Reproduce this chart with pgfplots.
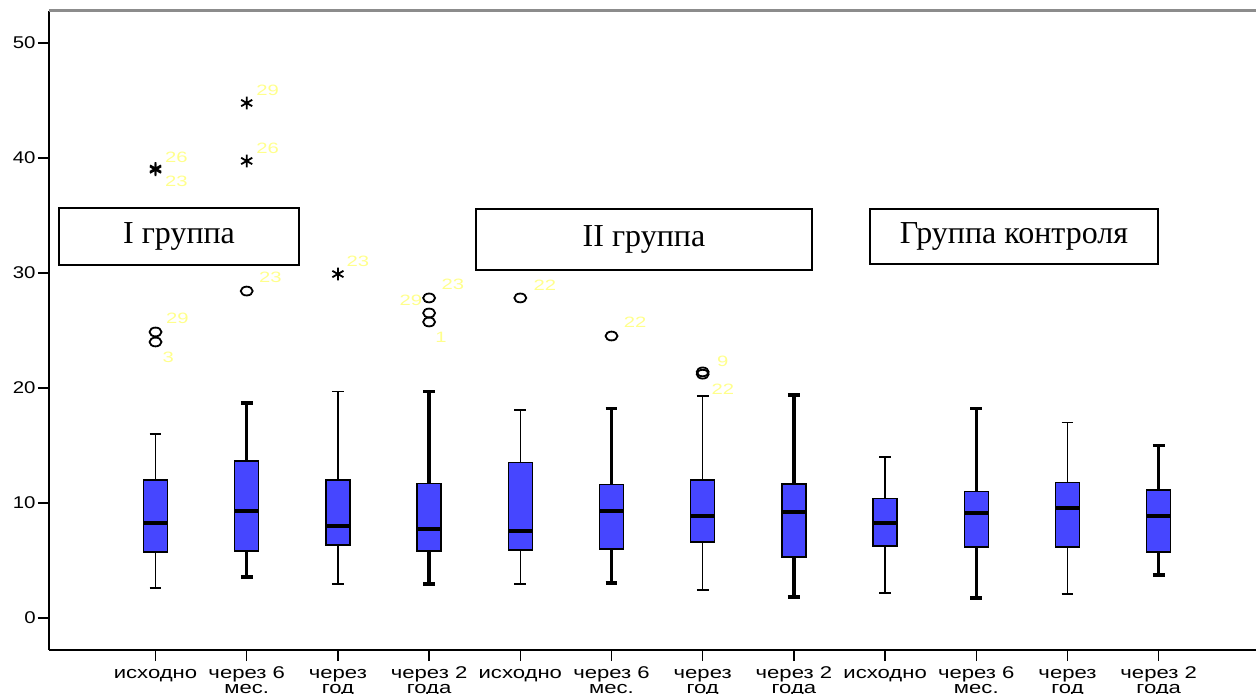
\documentclass[border=0pt]{standalone}
\usepackage{fontspec}
\setmainfont{Liberation Serif}
\newfontfamily\sans{Liberation Sans}
\usepackage{pgfplots}
\pgfplotsset{compat=1.18}
\usepgfplotslibrary{statistics}
\definecolor{boxblue}{RGB}{70,70,255}
\definecolor{lblyellow}{RGB}{255,255,140}
\definecolor{topgray}{RGB}{140,140,140}
\newcommand{\sx}[1]{\rule{0pt}{6.5pt}\scalebox{1.3}[1]{#1}}
\newcommand{\sy}[1]{\scalebox{1.2}[1]{#1}}
\newcommand{\slbl}[1]{\scalebox{1.35}[1]{#1}}
\newcommand{\tightlines}{\lineskiplimit=-20pt\relax\lineskip=0pt\relax}
\pgfplotsset{
  bx/.style={
    boxplot/draw direction=y,
    boxplot/box extend=0.263,
    boxplot/whisker extend=0.13,
    boxplot/every box/.style={fill=boxblue, draw=black, line width=0.75pt},
    boxplot/every median/.style={black, line width=2pt},
  },
  thinw/.style={boxplot/every whisker/.style={black, line width=0.75pt}},
  thickw/.style={boxplot/every whisker/.style={black, line width=1.7pt}},
}
\begin{document}
\begin{tikzpicture}
\path[use as bounding box] (-24.5pt,-21.5pt) rectangle (603.5pt,325pt);
\begin{axis}[
  at={(0,0)}, anchor=south west,
  scale only axis, width=603.5pt, height=319.5pt,
  xmin=-0.168, xmax=13.067, ymin=-2.783, ymax=52.78,
  axis x line*=bottom, axis y line*=left,
  axis line style={black, line width=1pt},
  tick align=outside, major tick length=5.5pt,
  tick style={black, line width=0.75pt},
  ytick={0,10,20,30,40,50},
  yticklabel={\sy{\pgfmathprintnumber{\tick}}},
  xtick={1,...,12},
  xticklabels={{\sx{исходно}},{\sx{через 6}\\\sx{мес.}},{\sx{через}\\\sx{год}},{\sx{через 2}\\\sx{года}},
               {\sx{исходно}},{\sx{через 6}\\\sx{мес.}},{\sx{через}\\\sx{год}},{\sx{через 2}\\\sx{года}},
               {\sx{исходно}},{\sx{через 6}\\\sx{мес.}},{\sx{через}\\\sx{год}},{\sx{через 2}\\\sx{года}}},
  xticklabel style={font=\sans\fontsize{8.5}{7.5}\selectfont\tightlines, align=center, inner sep=1pt, anchor=north, yshift=-1pt},
  yticklabel style={font=\sans\fontsize{8.5}{9}\selectfont, inner sep=1pt},
  /pgf/number format/assume math mode=true,
  clip=false,
]
\addplot[bx, thinw, boxplot prepared={draw position=1, lower whisker=2.6, lower quartile=5.74, median=8.26, upper quartile=12.0, upper whisker=16.0}] coordinates {};
\addplot[bx, thickw, boxplot prepared={draw position=2, lower whisker=3.57, lower quartile=5.83, median=9.3, upper quartile=13.65, upper whisker=18.7}] coordinates {};
\addplot[bx, thinw, boxplot prepared={draw position=3, lower whisker=2.96, lower quartile=6.35, median=8.0, upper quartile=12.0, upper whisker=19.7}] coordinates {};
\addplot[bx, thickw, boxplot prepared={draw position=4, lower whisker=2.96, lower quartile=5.83, median=7.74, upper quartile=11.7, upper whisker=19.7}] coordinates {};
\addplot[bx, thinw, boxplot prepared={draw position=5, lower whisker=2.96, lower quartile=5.9, median=7.57, upper quartile=13.5, upper whisker=18.1}] coordinates {};
\addplot[bx, thickw, boxplot prepared={draw position=6, lower whisker=3.04, lower quartile=6.0, median=9.3, upper quartile=11.6, upper whisker=18.2}] coordinates {};
\addplot[bx, thinw, boxplot prepared={draw position=7, lower whisker=2.43, lower quartile=6.6, median=8.87, upper quartile=12.0, upper whisker=19.3}] coordinates {};
\addplot[bx, thickw, boxplot prepared={draw position=8, lower whisker=1.83, lower quartile=5.3, median=9.2, upper quartile=11.65, upper whisker=19.4}] coordinates {};
\addplot[bx, thinw, boxplot prepared={draw position=9, lower whisker=2.17, lower quartile=6.26, median=8.26, upper quartile=10.4, upper whisker=14.0}] coordinates {};
\addplot[bx, thickw, boxplot prepared={draw position=10, lower whisker=1.74, lower quartile=6.17, median=9.13, upper quartile=11.0, upper whisker=18.2}] coordinates {};
\addplot[bx, thinw, boxplot prepared={draw position=11, lower whisker=2.09, lower quartile=6.17, median=9.57, upper quartile=11.8, upper whisker=17.0}] coordinates {};
\addplot[bx, thickw, boxplot prepared={draw position=12, lower whisker=3.74, lower quartile=5.74, median=8.87, upper quartile=11.13, upper whisker=15.0}] coordinates {};
% outliers (circles)
\addplot[only marks, mark=o, mark size=2.6pt, mark options={black, line width=0.9pt, xscale=1.15, yscale=0.85}]
  coordinates {(1,24.87) (1,24.0) (2,28.43) (4,27.83) (4,26.52) (4,25.74) (5,27.83) (6,24.52) (7,21.4) (7,21.2)};
% extremes (stars)
\addplot[only marks, mark=asterisk, mark size=3.2pt, mark options={black, line width=0.9pt}]
  coordinates {(1,39.08) (1,38.98) (2,44.78) (2,39.74) (3,29.91)};
% case labels
\addplot[draw=none, nodes near coords, point meta=explicit symbolic,
  nodes near coords style={anchor=center, inner sep=0pt, font=\sans\fontsize{7.5}{8}\selectfont, text=lblyellow}]
  table[meta=label] {
x y label
1.23 40.09 {\slbl{26}}
1.23 38.0 {\slbl{23}}
1.24 26.09 {\slbl{29}}
1.14 22.7 {\slbl{3}}
2.23 45.9 {\slbl{29}}
2.23 40.87 {\slbl{26}}
2.26 29.65 {\slbl{23}}
3.22 31.04 {\slbl{23}}
3.80 27.65 {\slbl{29}}
4.26 29.04 {\slbl{23}}
4.13 24.43 {\slbl{1}}
5.27 28.96 {\slbl{22}}
6.26 25.74 {\slbl{22}}
7.22 22.35 {\slbl{9}}
7.22 19.91 {\slbl{22}}
};
\draw[topgray, line width=1.5pt] (rel axis cs:0,1) -- (rel axis cs:1,1);
\node[draw=black, fill=white, line width=0.75pt, minimum width=120pt, minimum height=28.5pt, inner sep=0pt, font=\fontsize{16}{16}\selectfont] at (axis cs:1.258,33.17) {I группа};
\node[draw=black, fill=white, line width=0.75pt, minimum width=168pt, minimum height=30.5pt, inner sep=0pt, font=\fontsize{16}{16}\selectfont] at (axis cs:6.356,32.91) {II группа};
\node[draw=black, fill=white, line width=0.75pt, minimum width=144pt, minimum height=27.5pt, inner sep=0pt, font=\fontsize{16}{16}\selectfont] at (axis cs:10.413,33.17) {Группа контроля};
\end{axis}
\end{tikzpicture}
\end{document}
